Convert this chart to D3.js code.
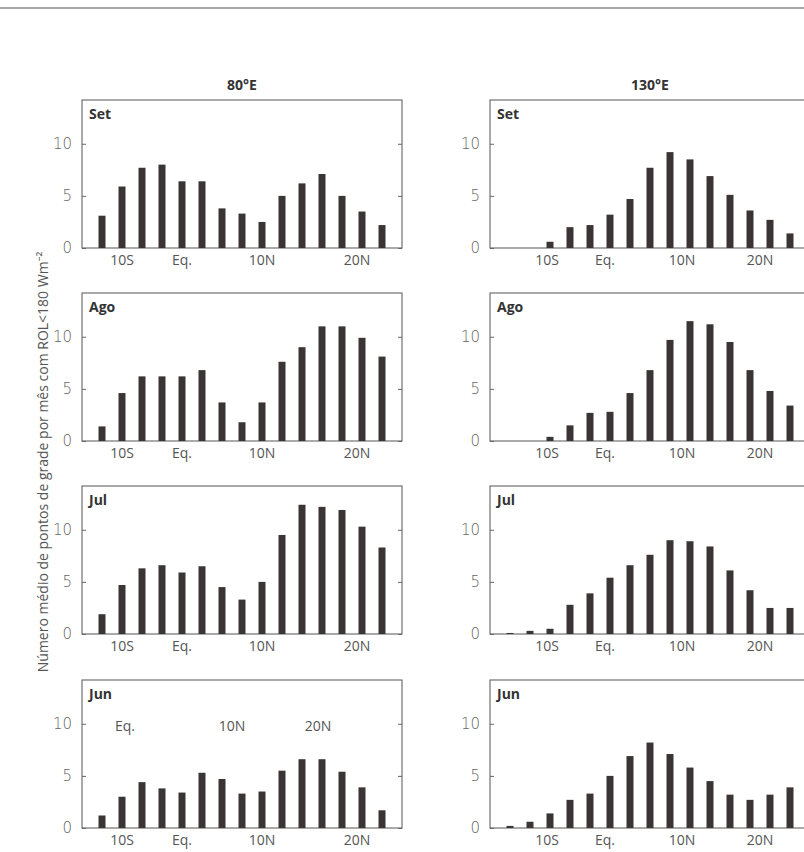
<!DOCTYPE html>
<html>
<head>
<meta charset="utf-8">
<script src="https://cdn.jsdelivr.net/npm/d3@7"></script>
<style>
body { margin: 0; background: #fff; }
svg { font-family: "Open Sans", "Noto Sans", sans-serif; }
</style>
</head>
<body>
<div id="chart"></div>
<script>
const months = ["Set", "Ago", "Jul", "Jun"];
const columns = ["80°E", "130°E"];

// 15 latitude bins per panel, south to north
const e80Set = [3.1, 5.9, 7.7, 8.0, 6.4, 6.4, 3.8, 3.3, 2.5, 5.0, 6.2, 7.1, 5.0, 3.5, 2.2];
const e80Ago = [1.4, 4.6, 6.2, 6.2, 6.2, 6.8, 3.7, 1.8, 3.7, 7.6, 9.0, 11.0, 11.0, 9.9, 8.1];
const e80Jul = [1.9, 4.7, 6.3, 6.6, 5.9, 6.5, 4.5, 3.3, 5.0, 9.5, 12.4, 12.2, 11.9, 10.3, 8.3];
const e80Jun = [1.2, 3.0, 4.4, 3.8, 3.4, 5.3, 4.7, 3.3, 3.5, 5.5, 6.6, 6.6, 5.4, 3.9, 1.7];

const e130Set = [0, 0, 0.6, 2.0, 2.2, 3.2, 4.7, 7.7, 9.2, 8.5, 6.9, 5.1, 3.6, 2.7, 1.4];
const e130Ago = [0, 0, 0.4, 1.5, 2.7, 2.8, 4.6, 6.8, 9.7, 11.5, 11.2, 9.5, 6.8, 4.8, 3.4];
const e130Jul = [0.1, 0.3, 0.5, 2.8, 3.9, 5.4, 6.6, 7.6, 9.0, 8.9, 8.4, 6.1, 4.2, 2.5, 2.5];
const e130Jun = [0.2, 0.6, 1.4, 2.7, 3.3, 5.0, 6.9, 8.2, 7.1, 5.8, 4.5, 3.2, 2.7, 3.2, 3.9];

const latLabels = ["10S", "Eq.", "10N", "20N"];
const latPos80 = [1, 4, 8, 12.75];
const latPos130 = [1.85, 4.75, 8.6, 12.5];
const junInnerPos = [1.15, 6.5, 10.8];   // extra labels inside the 80°E Jun panel
const yTicks = [0, 5, 10];

const series = [
    [e80Set, e80Ago, e80Jul, e80Jun],
    [e130Set, e130Ago, e130Jul, e130Jun]
];

const width = 804, height = 852;
const panelLeft = [82, 490];
const panelW = 320;
const rowTop = [100, 293, 486, 680];
const panelH = 148;
const textColor = "#555";
const barColor = "#3b3435";

const svg = d3.select("#chart").append("svg")
    .attr("width", width)
    .attr("height", height);

svg.append("line")
    .attr("x1", 0).attr("x2", width)
    .attr("y1", 8).attr("y2", 8)
    .attr("stroke", "#888").attr("stroke-width", 1.5);

svg.append("text")
    .attr("transform", `translate(48,462) rotate(-90)`)
    .attr("text-anchor", "middle")
    .attr("fill", textColor)
    .style("font-size", "14px")
    .text("Número médio de pontos de grade por mês com ROL<180 Wm⁻²");

columns.forEach((col, c) => {
    svg.append("text")
        .attr("x", panelLeft[c] + 160)
        .attr("y", 90)
        .attr("text-anchor", "middle")
        .attr("fill", "#333")
        .style("font-size", "14px")
        .style("font-weight", "bold")
        .text(col);

    const x = d3.scaleLinear().domain([-1, 15]).range([panelLeft[c], panelLeft[c] + panelW]);

    months.forEach((m, r) => {
        const y = d3.scaleLinear().domain([0, 14.2]).range([rowTop[r] + panelH, rowTop[r]]);
        const g = svg.append("g");
        const data = series[c][r];

        g.append("rect")
            .attr("x", panelLeft[c]).attr("y", rowTop[r])
            .attr("width", panelW).attr("height", panelH)
            .attr("fill", "none").attr("stroke", "#555").attr("stroke-width", 1);

        g.selectAll("rect.bar")
            .data(data)
            .join("rect")
            .attr("class", "bar")
            .attr("x", (d, i) => x(i) - 3.5)
            .attr("width", 7)
            .attr("y", d => y(d))
            .attr("height", d => y(0) - y(d))
            .attr("fill", barColor);

        const leftAxis = d3.axisLeft(y).tickValues(yTicks).tickSize(-4).tickPadding(10);
        const la = g.append("g").attr("transform", `translate(${panelLeft[c]},0)`).call(leftAxis);
        la.select(".domain").remove();
        la.selectAll("line").attr("stroke", "#666");
        la.selectAll("text").attr("fill", "#666").style("font-size", "15px")
            .style("font-family", "'DejaVu Sans', sans-serif").style("font-weight", "300");

        const ra = g.append("g").attr("transform", `translate(${panelLeft[c] + panelW},0)`)
            .call(d3.axisRight(y).tickValues(yTicks).tickSize(-4).tickFormat(""));
        ra.select(".domain").remove();
        ra.selectAll("line").attr("stroke", "#666");

        const pos = c === 0 ? latPos80 : latPos130;
        g.selectAll("text.lat")
            .data(latLabels)
            .join("text")
            .attr("class", "lat")
            .attr("x", (d, i) => x(pos[i]))
            .attr("y", rowTop[r] + panelH + 17)
            .attr("text-anchor", "middle")
            .attr("fill", textColor)
            .style("font-size", "14px")
            .text(d => d);

        if (c === 0 && r === 3) {
            g.selectAll("text.inner")
                .data(["Eq.", "10N", "20N"])
                .join("text")
                .attr("class", "inner")
                .attr("x", (d, i) => x(junInnerPos[i]))
                .attr("y", y(9.3))
                .attr("text-anchor", "middle")
                .attr("fill", textColor)
                .style("font-size", "14px")
                .text(d => d);
        }

        g.append("text")
            .attr("x", panelLeft[c] + 7)
            .attr("y", rowTop[r] + 19)
            .attr("fill", "#333")
            .style("font-size", "14px")
            .style("font-weight", "bold")
            .text(m);
    });
});
</script>
</body>
</html>
